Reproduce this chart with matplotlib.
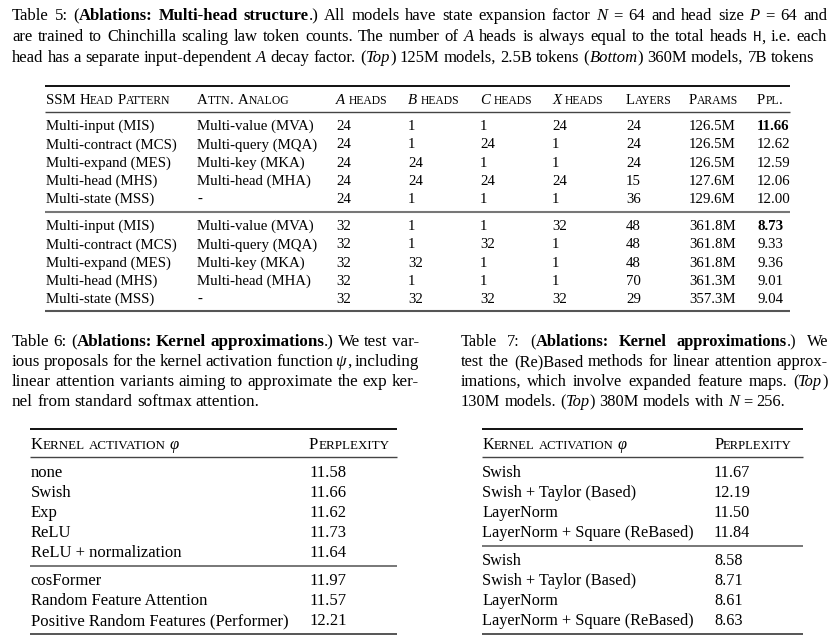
import matplotlib
matplotlib.use("Agg")
import matplotlib.pyplot as plt
from matplotlib.font_manager import FontProperties
from matplotlib.lines import Line2D

# ---------------- data ----------------
t5_caption = [
    [("Table 5: (", "n"), ("Ablations: Multi-head structure", "b"),
     (".) All models have state expansion factor ", "n"), ("N", "i"),
     (" = 64 and head size ", "n"), ("P", "i"), (" = 64 and", "n")],
    [("are trained to Chinchilla scaling law token counts. The number of ", "n"), ("A", "i"),
     (" heads is always equal to the total heads ", "n"), ("H", "m"), (", i.e. each", "n")],
    [("head has a separate input-dependent ", "n"), ("A", "i"), (" decay factor. (", "n"),
     ("Top", "i"), (") 125M models, 2.5B tokens (", "n"), ("Bottom", "i"),
     (") 360M models, 7B tokens", "n")],
]
t5_header = [("", "SSM Head Pattern"), ("", "Attn. Analog"), ("A", " heads"), ("B", " heads"),
             ("C", " heads"), ("X", " heads"), ("", "Layers"), ("", "Params"), ("", "Ppl.")]
t5_pattern = ["Multi-input (MIS)", "Multi-contract (MCS)", "Multi-expand (MES)",
              "Multi-head (MHS)", "Multi-state (MSS)"]
t5_analog = ["Multi-value (MVA)", "Multi-query (MQA)", "Multi-key (MKA)",
             "Multi-head (MHA)", "-"]

top_a = [24, 24, 24, 24, 24]
top_b = [1, 1, 24, 24, 1]
top_c = [1, 24, 1, 24, 1]
top_x = [24, 1, 1, 24, 1]
top_layers = [24, 24, 24, 15, 36]
top_params = ["126.5M", "126.5M", "126.5M", "127.6M", "129.6M"]
top_ppl = [11.66, 12.62, 12.59, 12.06, 12.00]

bot_a = [32, 32, 32, 32, 32]
bot_b = [1, 1, 32, 1, 32]
bot_c = [1, 32, 1, 1, 32]
bot_x = [32, 1, 1, 1, 32]
bot_layers = [48, 48, 48, 70, 29]
bot_params = ["361.8M", "361.8M", "361.8M", "361.3M", "357.3M"]
bot_ppl = [8.73, 9.33, 9.36, 9.01, 9.04]

t6_caption = [
    [("Table 6: (", "n"), ("Ablations: Kernel approximations", "b"), (".) We test var-", "n")],
    [("ious proposals for the kernel activation function ", "n"), ("ψ", "i"), (", including", "n")],
    [("linear attention variants aiming to approximate the exp ker-", "n")],
    [("nel from standard softmax attention.", "n")],
]
t6_kernel_a = ["none", "Swish", "Exp", "ReLU", "ReLU + normalization"]
t6_ppl_a = [11.58, 11.66, 11.62, 11.73, 11.64]
t6_kernel_b = ["cosFormer", "Random Feature Attention", "Positive Random Features (Performer)"]
t6_ppl_b = [11.97, 11.57, 12.21]

t7_caption = [
    [("Table 7: (", "n"), ("Ablations: Kernel approximations", "b"), (".) We", "n")],
    [("test the (Re)Based methods for linear attention approx-", "n")],
    [("imations, which involve expanded feature maps. (", "n"), ("Top", "i"), (")", "n")],
    [("130M models. (", "n"), ("Top", "i"), (") 380M models with ", "n"), ("N", "i"),
     (" = 256.", "n")],
]
t7_kernel = ["Swish", "Swish + Taylor (Based)", "LayerNorm", "LayerNorm + Square (ReBased)"]
t7_ppl_a = [11.67, 12.19, 11.50, 11.84]
t7_ppl_b = [8.58, 8.71, 8.61, 8.63]

# ---------------- drawing helpers ----------------
W, H = 840, 642
SERIF = "Liberation Serif"
SC = 0.78  # small caps scale

fig = plt.figure(figsize=(W / 100, H / 100), dpi=100)
renderer = fig.canvas.get_renderer()


def fprop(style, size):
    if style == "m":
        return FontProperties(family="Liberation Mono", size=size * 0.85)
    return FontProperties(family=SERIF, size=size,
                          weight="bold" if "b" in style else "normal",
                          style="italic" if "i" in style else "normal")


def ink(s, p):
    return renderer.get_text_width_height_descent(s, p, ismath=False)[0]


def seg_width(s, style, size):
    # advance width: ink of "IsI" minus ink of "II"
    p = fprop(style, size)
    return ink("I" + s + "I", p) - ink("II", p)


def space(size):
    return seg_width(" ", "n", size)


def to_words(runs):
    words = [[]]
    for run in runs:
        text, style = run[0], run[1]
        scale = run[2] if len(run) > 2 else 1.0
        parts = text.split(" ")
        for k, p in enumerate(parts):
            if k > 0:
                words.append([])
            if p:
                words[-1].append((p, style, scale))
    return [w for w in words if w]


def line_width(runs, size):
    words = to_words(runs)
    total = sum(seg_width(s, st, size * sc) for w in words for s, st, sc in w)
    return total + space(size) * (len(words) - 1)


def fit(runs, target, base=10.0):
    return base * target / line_width(runs, base)


def put(x, y, s, p):
    fig.text(x / W, 1 - y / H, s, fontproperties=p, ha="left", va="baseline", color="black")


def draw(x, y, runs, size, width=None):
    words = to_words(runs)
    widths = [sum(seg_width(s, st, size * sc) for s, st, sc in w) for w in words]
    gap = space(size)
    if width is not None and len(words) > 1:
        gap = (width - sum(widths)) / (len(words) - 1)
    cx = x
    for w in words:
        for s, st, sc in w:
            put(cx, y, s, fprop(st, size * sc))
            cx += seg_width(s, st, size * sc)
        cx += gap


def cell(x, y, s, size, style="n"):
    put(x, y, s, fprop(style, size))


def small_caps(text, style="n"):
    runs = []
    for ch in text:
        if ch == " ":
            runs.append((" ", style, 1.0))
            continue
        scale = SC if ch.islower() else 1.0
        if runs and runs[-1][0] != " " and runs[-1][2] == scale:
            runs[-1] = (runs[-1][0] + ch.upper(), style, scale)
        else:
            runs.append((ch.upper(), style, scale))
    return runs


def hline(x0, x1, y, lw=0.8, color="#222222"):
    fig.add_artist(Line2D([x0 / W, x1 / W], [1 - y / H, 1 - y / H],
                          transform=fig.transFigure, lw=lw, color=color,
                          solid_capstyle="butt"))


def caption(x, y0, step, width, lines, size):
    for k, ln in enumerate(lines):
        last = k == len(lines) - 1
        draw(x, y0 + k * step, ln, size, None if last else width)


# ---------------- Table 5 ----------------
s5_cap = fit(t5_caption[-1], 801)
caption(12, 20.5, 20.8, 815, t5_caption, s5_cap)

s5 = fit([("Multi-contract (MCS)", "n")], 130.7)
cols5 = [46, 197, 336, 408, 480, 552, 626, 689, 757]

hline(45, 790, 86, lw=1.4, color="#111111")
for cx, (ital, rest) in zip(cols5, t5_header):
    runs = ([(ital, "i", 1.0)] if ital else []) + small_caps(rest)
    draw(cx, 104, runs, s5)
hline(45, 790, 111.7, lw=1.0, color="#444444")


def t5_block(y0, a, b, c, x, layers, params, ppl):
    best = min(ppl)
    for i in range(len(a)):
        y = y0 + i * 18.33
        vals = [t5_pattern[i], t5_analog[i], str(a[i]), str(b[i]), str(c[i]),
                str(x[i]), str(layers[i]), params[i]]
        for cx, v in zip(cols5, vals):
            cell(cx, y, v, s5)
        cell(cols5[-1], y, "%.2f" % ppl[i], s5, "b" if ppl[i] == best else "n")


t5_block(130, top_a, top_b, top_c, top_x, top_layers, top_params, top_ppl)
hline(45, 790, 211.7, lw=1.5, color="#777777")
t5_block(230, bot_a, bot_b, bot_c, bot_x, bot_layers, bot_params, bot_ppl)
hline(45, 790, 311, lw=1.5, color="#555555")

# ---------------- Table 6 ----------------
s6_cap = fit(t6_caption[-1], 248)
caption(12, 346, 20, 407, t6_caption, s6_cap)

s6 = fit([("Positive Random Features (Performer)", "n")], 257.5)
hline(30, 397, 429, lw=1.4, color="#111111")
draw(30.5, 449.3, small_caps("Kernel activation ") + [("φ", "i", 1.0)], s6)
draw(309, 449.3, small_caps("Perplexity"), s6)
hline(30, 397, 457.3, lw=1.0, color="#444444")
for i, (k, p) in enumerate(zip(t6_kernel_a, t6_ppl_a)):
    cell(30.5, 477.3 + i * 20, k, s6)
    cell(309, 477.3 + i * 20, "%.2f" % p, s6)
hline(30, 397, 565.7, lw=1.4, color="#777777")
for i, (k, p) in enumerate(zip(t6_kernel_b, t6_ppl_b)):
    cell(30.5, 585 + i * 20, k, s6)
    cell(309, 585 + i * 20, "%.2f" % p, s6)
hline(30, 397, 634, lw=1.4, color="#555555")

# ---------------- Table 7 ----------------
s7_cap = fit(t7_caption[-1], 322)
caption(461, 346, 20, 367, t7_caption, s7_cap)

s7 = fit([("LayerNorm + Square (ReBased)", "n")], 211.6)
hline(481.7, 802.7, 429, lw=1.4, color="#111111")
draw(482, 449.3, small_caps("Kernel activation ") + [("φ", "i", 1.0)], s7)
draw(714, 449.3, small_caps("Perplexity"), s7)
hline(481.7, 802.7, 457.3, lw=1.0, color="#444444")
for i, (k, p) in enumerate(zip(t7_kernel, t7_ppl_a)):
    cell(482, 477.3 + i * 20, k, s7)
    cell(714, 477.3 + i * 20, "%.2f" % p, s7)
hline(481.7, 802.7, 546, lw=1.4, color="#777777")
for i, (k, p) in enumerate(zip(t7_kernel, t7_ppl_b)):
    cell(482, 565 + i * 20, k, s7)
    cell(714, 565 + i * 20, "%.2f" % p, s7)
hline(481.7, 802.7, 634, lw=1.4, color="#555555")

fig.savefig("out.png", dpi=100, facecolor="white")
